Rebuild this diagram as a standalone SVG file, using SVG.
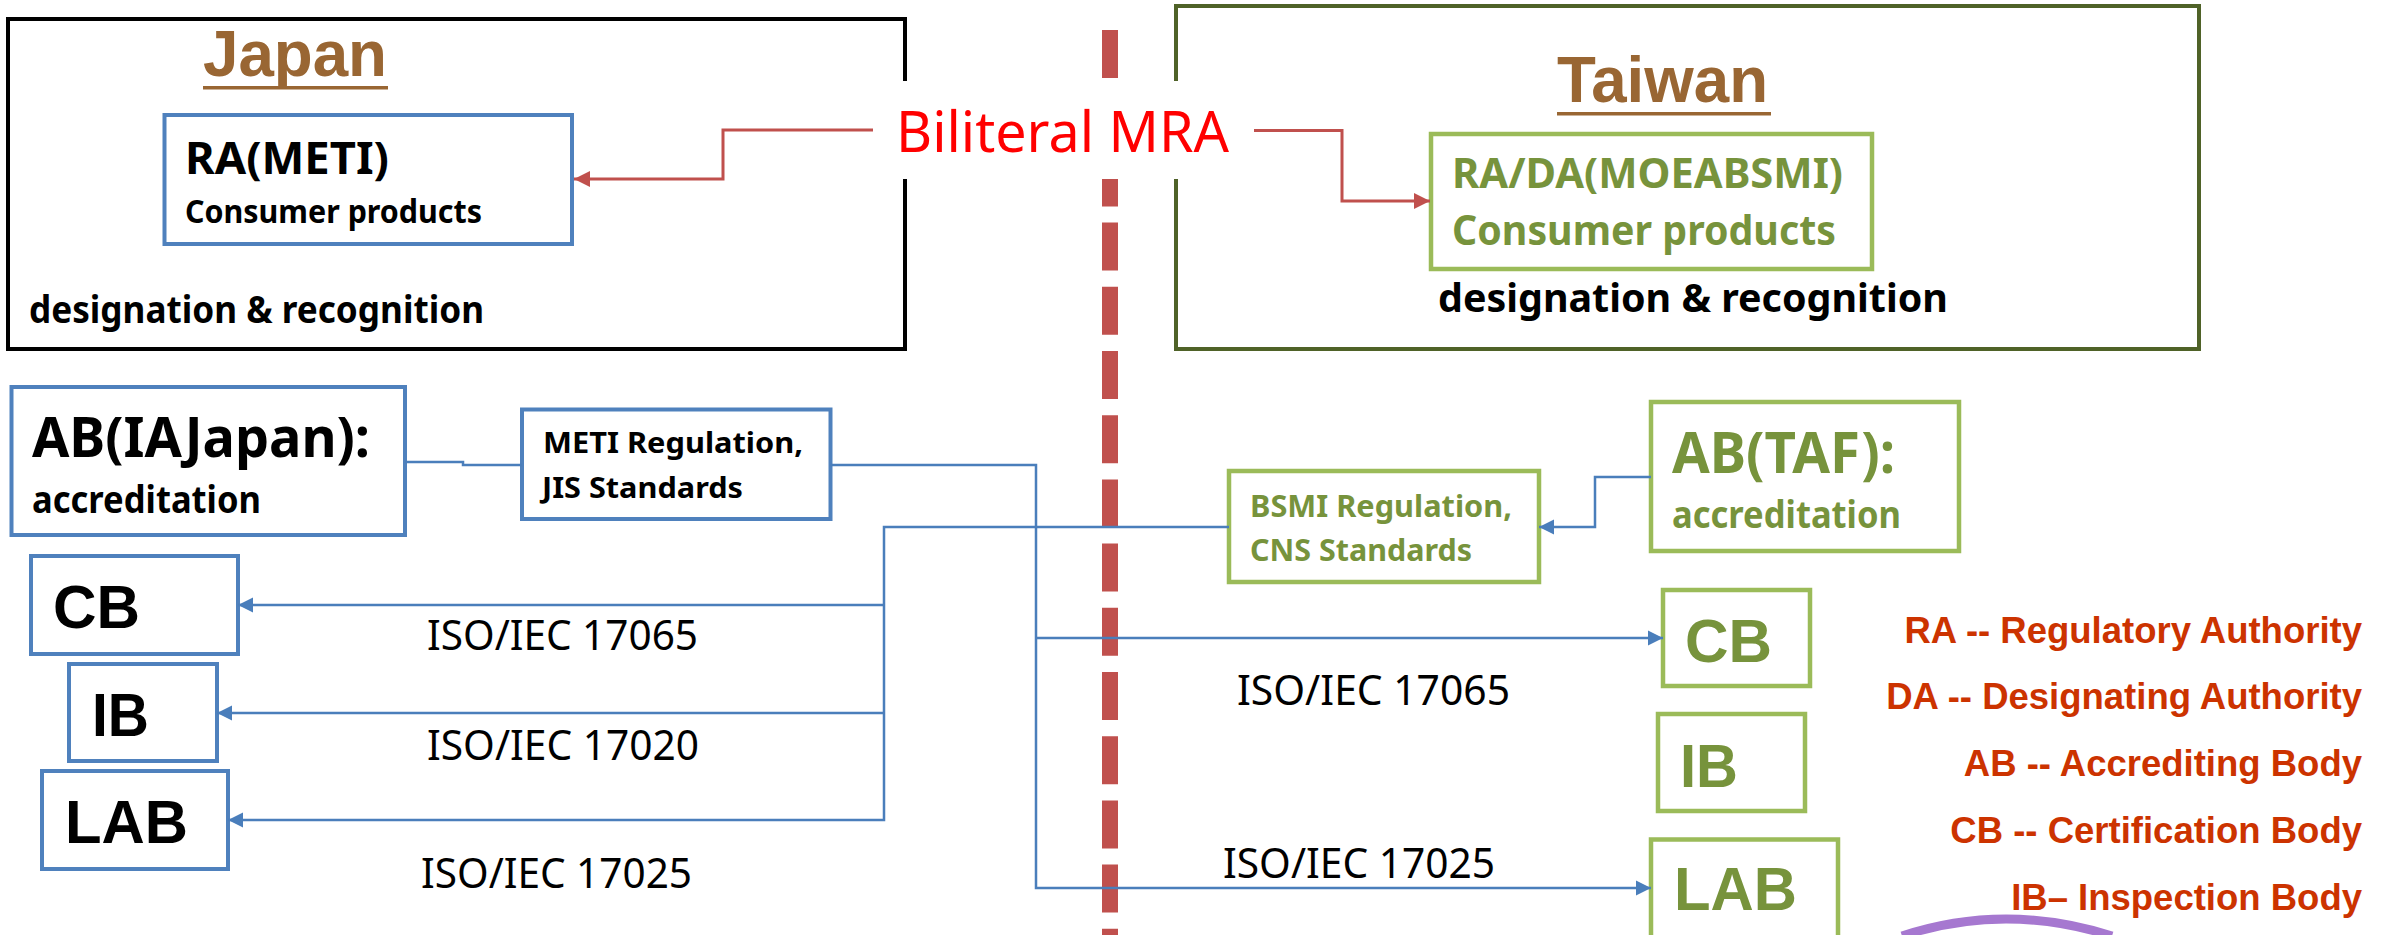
<svg xmlns="http://www.w3.org/2000/svg" width="2386" height="935" viewBox="0 0 2386 935">
<defs>
<style>
.region{fill:none;stroke-width:4}
.blue{fill:#fff;stroke:#4F81BD;stroke-width:4}
.green{fill:#fff;stroke:#9BBB59;stroke-width:4.5}
.cal{font-family:"Noto Sans","Open Sans","DejaVu Sans",sans-serif}
.b{font-weight:bold}
.ar{font-family:"Liberation Sans",Arial,sans-serif;font-weight:bold}
.title{fill:#996633;font-size:64px}
.gt{fill:#77933C}
.bt{fill:#000}
.iso{font-size:41px;fill:#000}
.leg{font-family:"Liberation Sans",Arial,sans-serif;font-weight:bold;font-size:36.5px;fill:#CC3300;text-anchor:end}
.conn{fill:none;stroke:#4A7EBB;stroke-width:2.5}
.mra{fill:none;stroke:#C0504D;stroke-width:3}
</style>
<marker id="ab" markerUnits="userSpaceOnUse" markerWidth="16" markerHeight="16" refX="15" refY="8" orient="auto">
<path d="M0,0.5 L15,8 L0,15.5 Z" fill="#4A7EBB"/>
</marker>
<marker id="ar" markerUnits="userSpaceOnUse" markerWidth="17" markerHeight="18" refX="16" refY="9" orient="auto">
<path d="M0,1 L16,9 L0,17 Z" fill="#C0504D"/>
</marker>
</defs>
<rect width="2386" height="935" fill="#fff"/>

<!-- divider -->
<line x1="1110" y1="30" x2="1110" y2="935" stroke="#C0504D" stroke-width="16" stroke-dasharray="48 16.2"/>

<!-- regions -->
<g id="japan">
<rect class="region" x="8" y="19" width="897" height="330" stroke="#000"/>
<text class="ar title" x="203" y="76" textLength="184" lengthAdjust="spacingAndGlyphs">Japan</text>
<line x1="203" y1="87.7" x2="388" y2="87.7" stroke="#996633" stroke-width="3.4"/>
<text class="cal b bt" x="29" y="323" font-size="37" textLength="455" lengthAdjust="spacingAndGlyphs">designation &amp; recognition</text>
</g>
<g id="taiwan">
<rect class="region" x="1176" y="6" width="1023" height="343" stroke="#4F6228"/>
<text class="ar title" x="1557" y="102" textLength="211" lengthAdjust="spacingAndGlyphs">Taiwan</text>
<line x1="1557" y1="113.7" x2="1771" y2="113.7" stroke="#996633" stroke-width="3.6"/>
<text class="cal b bt" x="1438" y="312" font-size="40" textLength="510" lengthAdjust="spacingAndGlyphs">designation &amp; recognition</text>
</g>

<!-- MRA label -->
<g id="mra">
<rect x="873" y="81" width="381" height="98" fill="#fff"/>
<text class="cal" x="896" y="152" font-size="57" fill="#FF0000" textLength="333" lengthAdjust="spacingAndGlyphs">Biliteral MRA</text>
</g>

<g id="ra-meti">
<rect class="blue" x="164.5" y="115" width="407.5" height="129"/>
<text class="cal b bt" x="185" y="174" font-size="45" textLength="204" lengthAdjust="spacingAndGlyphs">RA(METI)</text>
<text class="cal b bt" x="185" y="223" font-size="33" textLength="297" lengthAdjust="spacingAndGlyphs">Consumer products</text>
</g>
<g id="ra-bsmi">
<rect class="green" x="1431" y="134" width="441" height="135"/>
<text class="cal b gt" x="1452" y="188" font-size="41" textLength="391" lengthAdjust="spacingAndGlyphs">RA/DA(MOEABSMI)</text>
<text class="cal b gt" x="1452" y="245" font-size="41" textLength="384" lengthAdjust="spacingAndGlyphs">Consumer products</text>
</g>

<g id="ab-iajapan">
<rect class="blue" x="11.5" y="387" width="393.5" height="148"/>
<text class="cal b bt" x="32" y="457" font-size="56" textLength="338" lengthAdjust="spacingAndGlyphs">AB(IAJapan):</text>
<text class="cal b bt" x="32" y="513" font-size="37" textLength="229" lengthAdjust="spacingAndGlyphs">accreditation</text>
</g>
<g id="meti-reg">
<rect class="blue" x="522" y="409.5" width="308.5" height="109.5"/>
<text class="cal b bt" x="543" y="453" font-size="29" textLength="260" lengthAdjust="spacingAndGlyphs">METI Regulation,</text>
<text class="cal b bt" x="542" y="498" font-size="29" textLength="201" lengthAdjust="spacingAndGlyphs">JIS Standards</text>
</g>
<g id="cb-jp">
<rect class="blue" x="31" y="556" width="207" height="98"/>
<text class="ar bt" x="53" y="628" font-size="62" textLength="87" lengthAdjust="spacingAndGlyphs">CB</text>
</g>
<g id="ib-jp">
<rect class="blue" x="69" y="664" width="148" height="97"/>
<text class="ar bt" x="92" y="736" font-size="62" textLength="57" lengthAdjust="spacingAndGlyphs">IB</text>
</g>
<g id="lab-jp">
<rect class="blue" x="42" y="771" width="186" height="98"/>
<text class="ar bt" x="65" y="843" font-size="62" textLength="123" lengthAdjust="spacingAndGlyphs">LAB</text>
</g>

<g id="bsmi-reg">
<rect class="green" x="1229" y="471" width="310" height="111"/>
<text class="cal b gt" x="1250" y="517" font-size="31" textLength="262" lengthAdjust="spacingAndGlyphs">BSMI Regulation,</text>
<text class="cal b gt" x="1250" y="561" font-size="31" textLength="222" lengthAdjust="spacingAndGlyphs">CNS Standards</text>
</g>
<g id="ab-taf">
<rect class="green" x="1651" y="402" width="308" height="149"/>
<text class="cal b gt" x="1672" y="473" font-size="57" textLength="223" lengthAdjust="spacingAndGlyphs">AB(TAF):</text>
<text class="cal b gt" x="1672" y="528" font-size="37" textLength="229" lengthAdjust="spacingAndGlyphs">accreditation</text>
</g>
<g id="cb-tw">
<rect class="green" x="1663" y="590" width="147" height="96"/>
<text class="ar gt" x="1685" y="662" font-size="62" textLength="87" lengthAdjust="spacingAndGlyphs">CB</text>
</g>
<g id="ib-tw">
<rect class="green" x="1658" y="714" width="147" height="97"/>
<text class="ar gt" x="1680" y="787" font-size="62" textLength="58" lengthAdjust="spacingAndGlyphs">IB</text>
</g>
<g id="lab-tw">
<rect class="green" x="1651" y="839.5" width="187" height="100"/>
<text class="ar gt" x="1674" y="910" font-size="62" textLength="123" lengthAdjust="spacingAndGlyphs">LAB</text>
</g>

<!-- connectors -->
<g id="connectors">
<path class="mra" d="M873,130 H723 V179 H574" marker-end="url(#ar)"/>
<path class="mra" d="M1254,130.5 H1342 V201 H1430" marker-end="url(#ar)"/>
<path class="conn" d="M405,462 H463 V465 H522"/>
<path class="conn" d="M830.5,465 H1036 V888 H1651" marker-end="url(#ab)"/>
<path class="conn" d="M1036,638 H1663" marker-end="url(#ab)"/>
<path class="conn" d="M1229,527 H884 V820 H228" marker-end="url(#ab)"/>
<path class="conn" d="M884,605 H238" marker-end="url(#ab)"/>
<path class="conn" d="M884,713 H217" marker-end="url(#ab)"/>
<path class="conn" d="M1651,477 H1595 V527 H1539" marker-end="url(#ab)"/>
</g>

<!-- connector labels -->
<g id="labels">
<text class="cal iso" x="427" y="650" textLength="271" lengthAdjust="spacingAndGlyphs">ISO/IEC 17065</text>
<text class="cal iso" x="427" y="760" textLength="272" lengthAdjust="spacingAndGlyphs">ISO/IEC 17020</text>
<text class="cal iso" x="421" y="888" textLength="271" lengthAdjust="spacingAndGlyphs">ISO/IEC 17025</text>
<text class="cal iso" x="1237" y="705" textLength="273" lengthAdjust="spacingAndGlyphs">ISO/IEC 17065</text>
<text class="cal iso" x="1223" y="878" textLength="272" lengthAdjust="spacingAndGlyphs">ISO/IEC 17025</text>
</g>

<!-- legend -->
<g id="legend">
<text class="leg" x="2362" y="643">RA -- Regulatory Authority</text>
<text class="leg" x="2362" y="709">DA -- Designating Authority</text>
<text class="leg" x="2362" y="776">AB -- Accrediting Body</text>
<text class="leg" x="2362" y="843">CB -- Certification Body</text>
<text class="leg" x="2362" y="910">IB– Inspection Body</text>
</g>

<!-- partial logo arc at bottom -->
<path d="M1902,936 Q2005,902 2112,936" fill="none" stroke="#A678D0" stroke-width="9"/>
</svg>
